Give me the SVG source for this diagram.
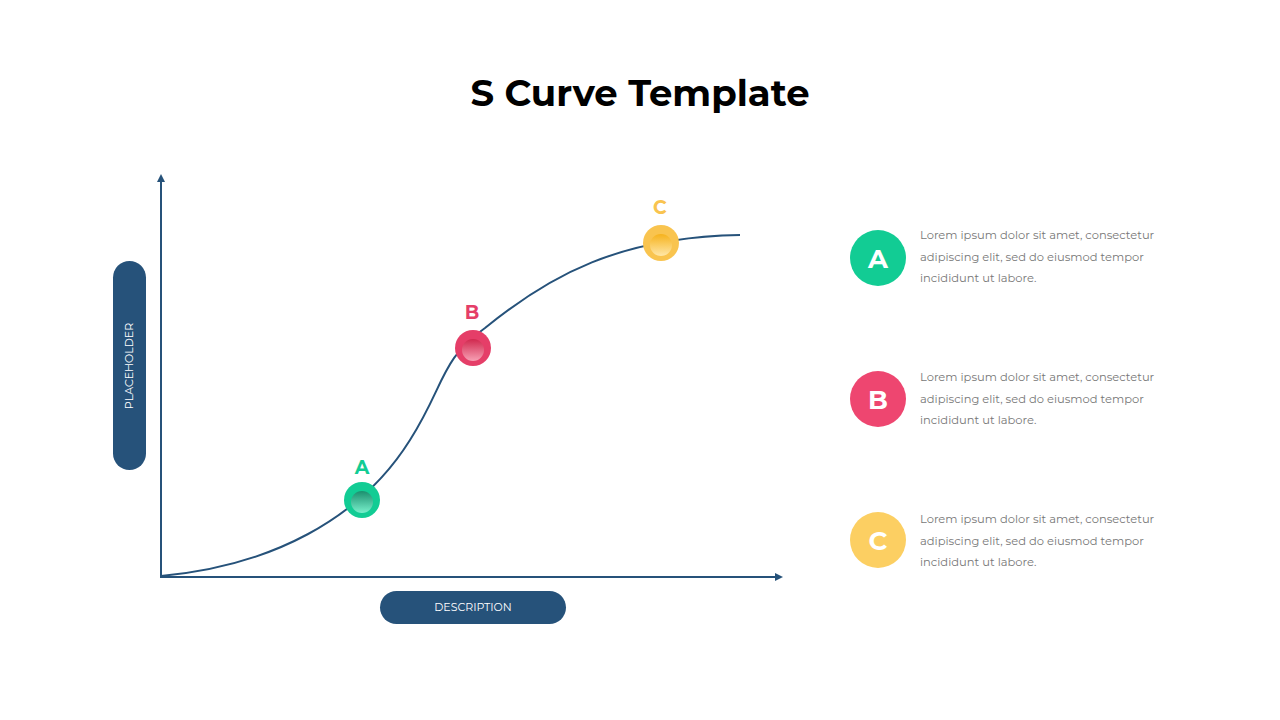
<svg xmlns="http://www.w3.org/2000/svg" width="1280" height="720" viewBox="0 0 1280 720">
<defs>
<style>
.ax{stroke:#26527a;stroke-width:2;fill:none}
.lbl{font-family:Montserrat,"Open Sans","Liberation Sans",sans-serif;font-weight:bold;font-size:19px;text-anchor:middle}
.body{font-family:Montserrat,"Open Sans","Liberation Sans",sans-serif;font-size:11.5px;fill:#777}
.big{font-family:Montserrat,"Open Sans","Liberation Sans",sans-serif;font-weight:bold;font-size:26px;fill:#fff;text-anchor:middle}
.pill{font-family:Montserrat,"Open Sans","Liberation Sans",sans-serif;font-size:11px;fill:#fff;text-anchor:middle}
</style>
<marker id="ar" markerWidth="8" markerHeight="8" refX="6" refY="4" orient="auto" markerUnits="userSpaceOnUse"><path d="M0,0 L8,4 L0,8 Z" fill="#26527a"/></marker>
<linearGradient id="gA" x1="0" y1="0" x2="0" y2="1"><stop offset="0" stop-color="#1b8f6e"/><stop offset="1" stop-color="#7af0cc"/></linearGradient>
<linearGradient id="gB" x1="0" y1="0" x2="0" y2="1"><stop offset="0" stop-color="#d0284e"/><stop offset="1" stop-color="#f7a0b4"/></linearGradient>
<linearGradient id="gC" x1="0" y1="0" x2="0" y2="1"><stop offset="0" stop-color="#f6b21c"/><stop offset="1" stop-color="#ffe7a8"/></linearGradient>
</defs>
<rect width="1280" height="720" fill="#fff"/>
<text x="640" y="106" font-family="Montserrat,'Open Sans','Liberation Sans',sans-serif" font-weight="bold" font-size="37" text-anchor="middle" fill="#000">S Curve Template</text>
<g id="connectors">
<line class="ax" x1="161" y1="577" x2="161" y2="176" marker-end="url(#ar)"/>
<line class="ax" x1="160" y1="577" x2="781" y2="577" marker-end="url(#ar)"/>
<path class="ax" stroke-width="3" d="M161,576 C270,566 360,520 410,440 C445,385 440,360 485,328 C550,275 620,237 740,235"/>
</g>
<g id="yaxis-label"><rect x="113" y="261" width="33" height="209" rx="16.5" fill="#26527a"/><text class="pill" transform="translate(133,366) rotate(-90)">PLACEHOLDER</text></g>
<g id="xaxis-label"><rect x="380" y="591" width="186" height="33" rx="16.5" fill="#26527a"/><text class="pill" x="473" y="611">DESCRIPTION</text></g>
<g id="pointA"><circle cx="362" cy="500" r="18" fill="#12cc94"/><circle cx="362" cy="502" r="11" fill="url(#gA)"/><text class="lbl" x="362" y="474" fill="#12cc94">A</text></g>
<g id="pointB"><circle cx="473" cy="348" r="18" fill="#e53e68"/><circle cx="473" cy="350" r="11" fill="url(#gB)"/><text class="lbl" x="472" y="319" fill="#e53e68">B</text></g>
<g id="pointC"><circle cx="661" cy="243" r="18" fill="#f9c44f"/><circle cx="661" cy="245" r="11" fill="url(#gC)"/><text class="lbl" x="660" y="214" fill="#f9c44f">C</text></g>
<g id="legendA"><circle cx="878" cy="258" r="28" fill="#12cc94"/><text class="big" x="878" y="268">A</text>
<text class="body"><tspan x="920" y="239">Lorem ipsum dolor sit amet, consectetur</tspan><tspan x="920" y="261">adipiscing elit, sed do eiusmod tempor</tspan><tspan x="920" y="282">incididunt ut labore.</tspan></text></g>
<g id="legendB"><circle cx="878" cy="399" r="28" fill="#ee4670"/><text class="big" x="878" y="409">B</text>
<text class="body"><tspan x="920" y="381">Lorem ipsum dolor sit amet, consectetur</tspan><tspan x="920" y="403">adipiscing elit, sed do eiusmod tempor</tspan><tspan x="920" y="424">incididunt ut labore.</tspan></text></g>
<g id="legendC"><circle cx="878" cy="540" r="28" fill="#fccf62"/><text class="big" x="878" y="550">C</text>
<text class="body"><tspan x="920" y="523">Lorem ipsum dolor sit amet, consectetur</tspan><tspan x="920" y="545">adipiscing elit, sed do eiusmod tempor</tspan><tspan x="920" y="566">incididunt ut labore.</tspan></text></g>
</svg>
